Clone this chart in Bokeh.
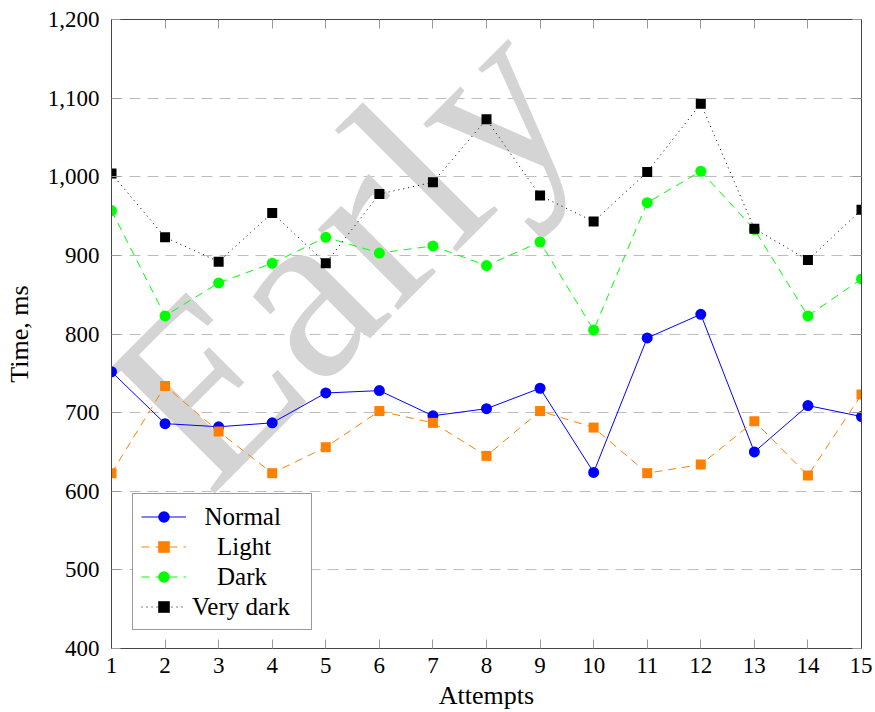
from bokeh.plotting import figure
from bokeh.models import (Legend, LegendItem, LinearAxis, FixedTicker,
                          NumeralTickFormatter, Label, Range1d)
from bokeh.embed import file_html
from bokeh.resources import INLINE

# ---- data ----
attempts = list(range(1, 16))
normal = [752, 686, 682, 687, 725, 728, 696, 705, 731, 624, 795, 825, 650, 709, 695]
light = [623, 734, 676, 623, 656, 702, 687, 645, 702, 681, 623, 634, 689, 620, 723]
dark = [957, 823, 865, 890, 923, 903, 912, 887, 917, 805, 967, 1007, 933, 823, 870]
very_dark = [1004, 923, 892, 954, 890, 978, 993, 1073, 976, 943, 1006, 1093, 934, 894, 958]
y_ticks = list(range(400, 1201, 100))
series_names = ["Normal", "Light", "Dark", "Very dark"]
x_title = "Attempts"
y_title = "Time, ms"
watermark = "Early"

FONT = "Liberation Serif"
NB = "\u00a0"

p = figure(width=872, height=712, output_backend="svg", toolbar_location=None,
           x_range=Range1d(1, 15), y_range=Range1d(400, 1200),
           min_border_left=111, min_border_right=11, min_border_top=19,
           min_border_bottom=63)
p.background_fill_color = "white"
p.border_fill_color = "white"
p.outline_line_color = "#444444"
p.outline_line_width = 1

# watermark
wm = Label(x=39, y=209, x_units="screen", y_units="screen", text=watermark,
           angle=45, angle_units="deg", text_font=FONT, text_font_size="248px",
           text_color="#d4d4d4", text_align="left", text_baseline="alphabetic",
           level="underlay")
p.add_layout(wm)

# grid
p.xgrid.grid_line_color = None
p.ygrid.grid_line_color = "#bdbdbd"
p.ygrid.grid_line_dash = "11 7"
p.ygrid.grid_line_width = 1

def style_axis(ax, labels=True):
    ax.major_tick_in = 9
    ax.major_tick_out = 0
    ax.major_tick_line_color = "#999999"
    ax.minor_tick_line_color = None
    ax.axis_line_color = "#444444"
    if labels:
        ax.major_label_text_font = FONT
        ax.major_label_text_font_size = "23px"
        ax.major_label_text_color = "black"
        ax.axis_label_text_font = FONT
        ax.axis_label_text_font_size = "26px"
        ax.axis_label_text_font_style = "normal"
        ax.axis_label_text_color = "black"
    else:
        ax.major_label_text_font_size = "0px"
        ax.major_label_standoff = 0

xt = FixedTicker(ticks=attempts)
yt = FixedTicker(ticks=y_ticks)

p.xaxis.ticker = xt
p.yaxis.ticker = yt
p.yaxis.formatter = NumeralTickFormatter(format="0,0")
p.xaxis.axis_label = x_title
p.yaxis.axis_label = y_title
style_axis(p.xaxis[0])
style_axis(p.yaxis[0])
p.xaxis.major_label_standoff = 9
p.yaxis.major_label_standoff = 12
p.xaxis.axis_label_standoff = 5
p.yaxis.axis_label_standoff = 11

top = LinearAxis(ticker=FixedTicker(ticks=attempts))
style_axis(top, labels=False)
p.add_layout(top, "above")
right = LinearAxis(ticker=FixedTicker(ticks=y_ticks))
style_axis(right, labels=False)
p.add_layout(right, "right")

# series
styles = [
    (normal, "#0000ff", "solid", "circle", 11),
    (light, "#ff8000", "8 6", "square", 10),
    (dark, "#00ff00", "8 6", "circle", 11),
    (very_dark, "#000000", "1 4", "square", 10),
]
pads = [2, 4, 4, 0]
items = []
for (vals, col, dash, marker, size), name, pad in zip(styles, series_names, pads):
    ln = p.line(attempts, vals, line_color=col, line_width=1, line_dash=dash)
    sc = p.scatter(attempts, vals, marker=marker, size=size, fill_color=col,
                   line_color=col, line_width=0)
    items.append(LegendItem(label=NB * pad + name, renderers=[ln, sc]))

legend = Legend(items=items, location=(21, 18), glyph_width=45, glyph_height=29,
                label_height=29, label_width=111, label_standoff=6, padding=8,
                spacing=1, margin=0, border_line_color="#333333",
                border_line_width=1, label_text_font=FONT,
                label_text_font_size="25px", label_text_color="black",
                background_fill_color="white", background_fill_alpha=1)
p.add_layout(legend)

open("out.html", "w").write(file_html(p, INLINE))
